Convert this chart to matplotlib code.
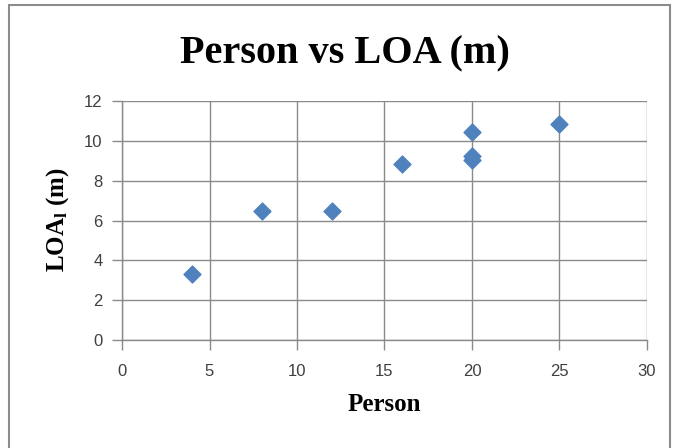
import matplotlib
matplotlib.use("Agg")
import matplotlib.pyplot as plt
from matplotlib.patches import Rectangle

# Crew size vs length overall
persons = [4, 8, 12, 16, 20, 20, 20, 25]
loa = [3.3, 6.5, 6.5, 8.85, 10.45, 9.25, 9.05, 10.85]

x_ticks = [0, 5, 10, 15, 20, 25, 30]
y_ticks = [0, 2, 4, 6, 8, 10, 12]

plt.rcParams['mathtext.fontset'] = 'custom'
plt.rcParams['mathtext.rm'] = 'Liberation Serif:bold'
plt.rcParams['mathtext.it'] = 'Liberation Serif:bold'

fig = plt.figure(figsize=(6.73, 4.48), dpi=100)
fig.patch.set_facecolor('white')

# outer chart frame
fig.patches.append(Rectangle((9 / 673, -0.05), (670 - 9) / 673, 1.0388,
                             transform=fig.transFigure, fill=False,
                             edgecolor='#8c8c8c', linewidth=1.5))

ax = fig.add_axes([0.1813, 0.241, 0.780, 0.5335])
ax.scatter(persons, loa, marker='D', s=8.6 ** 2, color='#4F81BD',
           edgecolors='#4F81BD', zorder=3)

ax.set_xlim(0, 30)
ax.set_ylim(0, 12)
ax.set_xticks(x_ticks)
ax.set_yticks(y_ticks)
ax.grid(True, color='#8a8a8a', linewidth=1)
ax.set_axisbelow(True)

for side in ['top', 'right']:
    ax.spines[side].set_visible(False)
for side in ['left', 'bottom']:
    ax.spines[side].set_color('#8a8a8a')
    ax.spines[side].set_linewidth(1)

ax.tick_params(axis='both', direction='out', length=7, width=1,
               color='#8a8a8a', labelcolor='#404040', labelsize=12)
ax.tick_params(axis='x', pad=10)
ax.tick_params(axis='y', pad=7)
for lbl in ax.get_xticklabels() + ax.get_yticklabels():
    lbl.set_fontfamily('Liberation Sans')

fig.text(0.513, 0.880, 'Person vs LOA (m)', ha='center', va='center',
         fontsize=29, fontweight='bold', family='Liberation Serif')
fig.text(0.571, 0.096, 'Person', ha='center', va='center',
         fontsize=18, fontweight='bold', family='Liberation Serif')
fig.text(0.085, 0.509, 'LOA$_l$ (m)', ha='center', va='center',
         rotation=90, fontsize=18, fontweight='bold',
         family='Liberation Serif')

fig.savefig('out.png', dpi=100, facecolor='white')
